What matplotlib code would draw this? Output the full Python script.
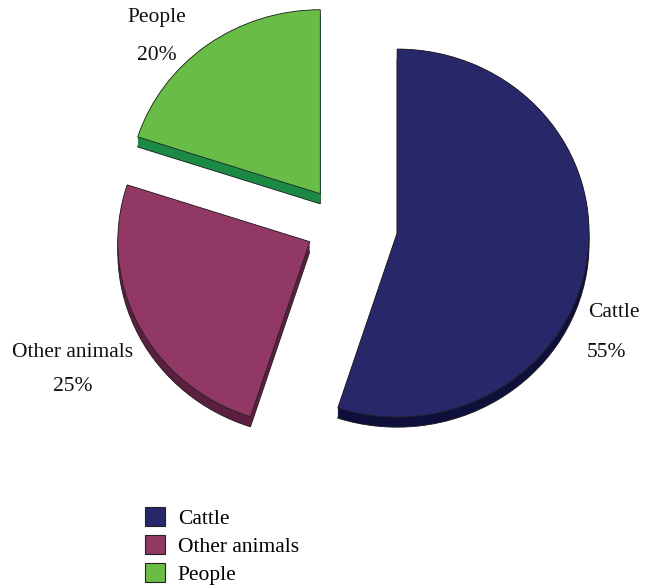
import numpy as np
import matplotlib
matplotlib.use("Agg")
import matplotlib.pyplot as plt
from matplotlib.patches import Patch

plt.rcParams['font.family'] = ['Liberation Serif', 'DejaVu Serif']

# data
categories = ["Cattle", "Other animals", "People"]
shares = [55, 25, 20]
pct_labels = ["55%", "25%", "20%"]

# style
top_colors = ['#272769', '#923865', '#69bd47']
side_colors = ['#0f0f3c', '#5c1f40', '#1b8a45']
explode = [0.28, 0.20, 0.21]

fig = plt.figure(figsize=(6.53, 5.88), dpi=100)
ax = fig.add_axes([0, 0, 1, 1])

# fake 3d thickness: stack darker copies underneath
depth = 0.055
steps = np.linspace(depth, 0.0, 8)
for k, d in enumerate(steps):
    ec = '#1a1a1a' if k == 0 else 'none'
    ax.pie(shares, explode=explode, colors=side_colors, startangle=90,
           counterclock=False, center=(0, -d),
           wedgeprops=dict(edgecolor=ec, linewidth=0.6))

# top face
ax.pie(shares, explode=explode, colors=top_colors, startangle=90,
       counterclock=False, center=(0, 0),
       wedgeprops=dict(edgecolor='#222222', linewidth=0.6))

# slightly flattened view (pixels per unit differ in x and y)
W, H = 653, 588
cx, cy = 344, 225
rx, ry = 192, 184
ax.set_aspect('auto')
ax.set_xlim(-cx / rx, (W - cx) / rx)
ax.set_ylim(-(H - cy) / ry, cy / ry)
ax.axis('off')

# slice labels, placed like the original (figure fraction)
fs = 15.5
name_pos = [(0.940, 0.469), (0.111, 0.401), (0.240, 0.971)]
pct_pos = [(0.929, 0.401), (0.112, 0.342), (0.240, 0.906)]
for i in range(len(categories)):
    fig.text(name_pos[i][0], name_pos[i][1], categories[i], fontsize=fs,
             ha='center', va='center', color='#111111')
    fig.text(pct_pos[i][0], pct_pos[i][1], pct_labels[i], fontsize=fs,
             ha='center', va='center', color='#111111')

handles = [Patch(facecolor=c, edgecolor='#222222', linewidth=0.8) for c in top_colors]
fig.legend(handles, categories, loc='upper left', bbox_to_anchor=(0.222, 0.137),
           frameon=False, fontsize=fs, handlelength=0.93, handleheight=0.93,
           handletextpad=0.6, labelspacing=0.3, borderpad=0, borderaxespad=0)

fig.savefig("out.png", dpi=100)
